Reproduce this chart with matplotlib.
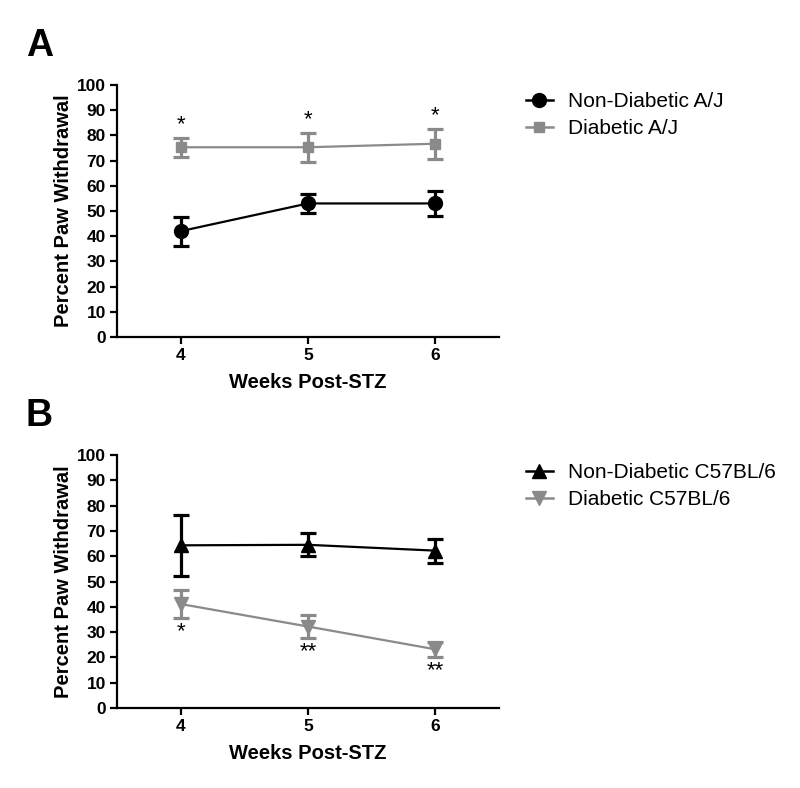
import numpy as np
import matplotlib
matplotlib.use("Agg")
import matplotlib.pyplot as plt

plt.rcParams['font.family'] = ['Liberation Sans', 'DejaVu Sans']

# data
weeks = [4, 5, 6]

aj_nondiab = [42.0, 53.0, 53.0]
aj_nondiab_err = [5.8, 3.7, 5.0]
aj_diab = [75.3, 75.3, 76.7]
aj_diab_err = [3.8, 5.8, 6.0]
aj_stars = ['*', '*', '*']
aj_star_y = [84.3, 86.3, 88.0]

c57_nondiab = [64.3, 64.5, 62.2]
c57_nondiab_err = [12.0, 4.5, 4.7]
c57_diab = [41.1, 32.2, 23.2]
c57_diab_err = [5.4, 4.6, 3.0]
c57_stars = ['*', '**', '**']
c57_star_y = [30.2, 22.3, 14.8]

labels_a = ['Non-Diabetic A/J', 'Diabetic A/J']
labels_b = ['Non-Diabetic C57BL/6', 'Diabetic C57BL/6']

GRAY = '#8a8a8a'
W, H = 800, 788

fig = plt.figure(figsize=(W / 100, H / 100), dpi=100)


def fx(px):
    return px / W


def fy(py):
    return 1 - py / H


def series(ax, y, err, color, marker, ms, label):
    ax.errorbar(weeks, y, yerr=err, color=color, ecolor=color, elinewidth=2.3,
                capsize=6, capthick=2.3, linewidth=1.6, marker=marker,
                markersize=ms, zorder=3)
    h, = ax.plot([], [], color=color, marker=marker, markersize=ms, linewidth=1.8, label=label)
    return h


def style(ax):
    ax.set_xlim(3.5, 6.5)
    ax.set_ylim(0, 100)
    ax.set_xticks(weeks)
    ax.set_yticks(np.arange(0, 101, 10))
    for s in ['top', 'right']:
        ax.spines[s].set_visible(False)
    for s in ['left', 'bottom']:
        ax.spines[s].set_linewidth(1.6)
    ax.tick_params(direction='out', length=5, width=1.6, labelsize=12.5, pad=3)
    for t in ax.get_xticklabels() + ax.get_yticklabels():
        t.set_fontweight('bold')
    ax.set_xlabel('Weeks Post-STZ', fontsize=14.5, fontweight='bold', labelpad=7)
    ax.set_ylabel('Percent Paw Withdrawal', fontsize=14.5, fontweight='bold', labelpad=3)


def legend(ax, handles, ycenter):
    ax.legend(handles=handles, loc='center left', bbox_to_anchor=(fx(507), fy(ycenter)),
              bbox_transform=fig.transFigure, frameon=False, fontsize=15,
              handlelength=1.3, handletextpad=0.75, labelspacing=0.4)


# panel A
axA = fig.add_axes([fx(117), fy(337), fx(499) - fx(117), fy(85) - fy(337)])
hA1 = series(axA, aj_nondiab, aj_nondiab_err, 'black', 'o', 10, labels_a[0])
hA2 = series(axA, aj_diab, aj_diab_err, GRAY, 's', 7.5, labels_a[1])
for x, s, yv in zip(weeks, aj_stars, aj_star_y):
    axA.text(x, yv, s, ha='center', va='center', fontsize=16)
style(axA)
legend(axA, [hA1, hA2], 115)
fig.text(fx(26), fy(28), 'A', fontsize=27, fontweight='bold', va='top', ha='left')

# panel B
axB = fig.add_axes([fx(117), fy(708), fx(499) - fx(117), fy(455) - fy(708)])
hB1 = series(axB, c57_nondiab, c57_nondiab_err, 'black', '^', 10, labels_b[0])
hB2 = series(axB, c57_diab, c57_diab_err, GRAY, 'v', 10, labels_b[1])
for x, s, yv in zip(weeks, c57_stars, c57_star_y):
    axB.text(x, yv, s, ha='center', va='center', fontsize=16)
style(axB)
legend(axB, [hB1, hB2], 486)
fig.text(fx(26), fy(398), 'B', fontsize=27, fontweight='bold', va='top', ha='left')

fig.savefig('out.png', dpi=100, facecolor='white')
